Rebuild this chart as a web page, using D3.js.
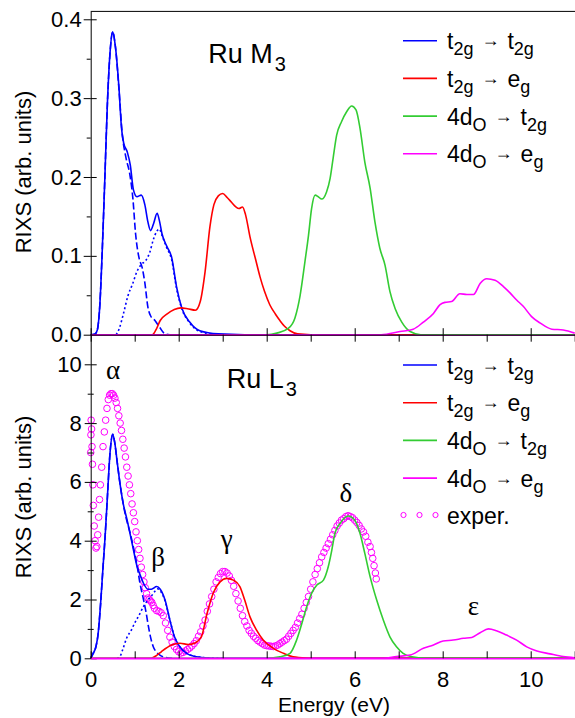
<!DOCTYPE html>
<html>
<head>
<meta charset="utf-8">
<script src="https://cdn.jsdelivr.net/npm/d3@7"></script>
<style>
body { margin: 0; background: #fff; }
svg { display: block; font-family: "Liberation Sans", Arial, Helvetica, sans-serif; }
</style>
</head>
<body>
<svg id="chart" width="575" height="718"></svg>
<script>
// Ru M3 (top panel), [energy eV, intensity]
var topBlue = [[0,0],[0.1,0.001],[0.15,0.006],[0.21,0.04],[0.26,0.103],[0.32,0.196],[0.38,0.294],[0.44,0.358],[0.5,0.384],[0.56,0.366],[0.64,0.315],[0.7,0.262],[0.75,0.243],[0.83,0.232],[0.9,0.215],[0.97,0.184],[1.05,0.175],[1.15,0.177],[1.23,0.165],[1.3,0.143],[1.36,0.132],[1.43,0.141],[1.51,0.154],[1.56,0.145],[1.62,0.128],[1.73,0.112],[1.84,0.098],[1.95,0.061],[2.07,0.034],[2.25,0.016],[2.48,0.005],[2.9,0.001],[3.5,0],[11,0]];
var topBlueDash = [[0,0],[0.1,0.001],[0.15,0.006],[0.21,0.04],[0.26,0.103],[0.32,0.196],[0.38,0.294],[0.44,0.358],[0.5,0.384],[0.56,0.366],[0.64,0.313],[0.72,0.253],[0.8,0.225],[0.89,0.203],[0.96,0.172],[1.02,0.128],[1.1,0.097],[1.17,0.085],[1.23,0.066],[1.3,0.035],[1.36,0.024],[1.46,0.018],[1.57,0.009],[1.69,0.001],[1.8,0]];
var topBlueDot = [[0.58,0],[0.65,0.008],[0.75,0.028],[0.85,0.05],[0.95,0.064],[1.05,0.08],[1.15,0.089],[1.25,0.094],[1.34,0.104],[1.42,0.12],[1.5,0.131],[1.56,0.134],[1.62,0.126],[1.73,0.11],[1.84,0.095],[1.95,0.059],[2.07,0.033],[2.25,0.015],[2.48,0.004],[2.9,0]];
var topRed = [[0,0],[1.4,0],[1.5,0.008],[1.58,0.018],[1.73,0.026],[1.9,0.032],[2.05,0.034],[2.2,0.033],[2.38,0.031],[2.49,0.042],[2.6,0.08],[2.71,0.137],[2.8,0.165],[2.9,0.176],[3.0,0.179],[3.1,0.174],[3.2,0.168],[3.3,0.162],[3.37,0.16],[3.45,0.162],[3.52,0.152],[3.62,0.124],[3.75,0.095],[3.85,0.073],[3.95,0.055],[4.07,0.038],[4.2,0.026],[4.3,0.018],[4.4,0.011],[4.53,0.005],[4.7,0.001],[5,0],[11,0]];
var topGreen = [[0,0],[4.0,0],[4.23,0.002],[4.49,0.008],[4.64,0.021],[4.76,0.05],[4.87,0.093],[4.95,0.126],[5.02,0.16],[5.1,0.177],[5.17,0.175],[5.25,0.172],[5.36,0.181],[5.44,0.198],[5.51,0.224],[5.59,0.253],[5.7,0.27],[5.82,0.283],[5.93,0.29],[6.03,0.285],[6.12,0.262],[6.23,0.219],[6.35,0.186],[6.46,0.143],[6.57,0.11],[6.69,0.088],[6.8,0.055],[6.92,0.033],[7.07,0.016],[7.26,0.004],[7.5,0],[11,0]];
var topMagenta = [[0,0],[6.6,0],[7.03,0.004],[7.33,0.007],[7.56,0.016],[7.79,0.027],[7.94,0.038],[8.05,0.041],[8.2,0.042],[8.39,0.052],[8.55,0.051],[8.7,0.051],[8.85,0.065],[9.0,0.071],[9.19,0.069],[9.38,0.061],[9.53,0.053],[9.68,0.044],[9.83,0.036],[10.02,0.023],[10.21,0.015],[10.48,0.007],[10.74,0.006],[11,0.002]];

// Ru L3 (bottom panel)
var botBlue = [[0,0],[0.05,0.15],[0.12,0.4],[0.17,0.85],[0.22,1.75],[0.28,3.1],[0.33,4.2],[0.38,5.5],[0.44,7.0],[0.5,7.62],[0.55,7.3],[0.6,6.7],[0.67,5.9],[0.74,5.25],[0.82,4.75],[0.9,4.2],[0.97,3.7],[1.05,3.15],[1.12,2.85],[1.2,2.55],[1.3,2.35],[1.38,2.35],[1.5,2.44],[1.58,2.35],[1.69,1.98],[1.8,1.3],[1.9,0.75],[2.0,0.45],[2.18,0.17],[2.35,0.07],[2.6,0.02],[3,0],[11,0]];
var botBlueDash = [[0,0],[0.05,0.15],[0.12,0.4],[0.17,0.85],[0.22,1.75],[0.28,3.1],[0.33,4.2],[0.38,5.5],[0.44,7.0],[0.5,7.62],[0.55,7.3],[0.6,6.7],[0.67,5.9],[0.74,5.25],[0.8,4.8],[0.89,4.3],[1.0,3.57],[1.06,3.1],[1.12,2.55],[1.2,2.0],[1.26,1.55],[1.31,1.1],[1.36,0.72],[1.42,0.4],[1.5,0.2],[1.58,0.1],[1.7,0.03],[1.85,0]];
var botBlueDot = [[0.6,0],[0.66,0.05],[0.74,0.35],[0.82,0.7],[0.92,0.95],[1.0,1.2],[1.1,1.47],[1.2,1.76],[1.3,1.98],[1.38,2.12],[1.46,2.28],[1.52,2.36],[1.58,2.3],[1.69,1.95],[1.8,1.3],[1.9,0.75],[2.0,0.45],[2.18,0.17],[2.35,0.07],[2.6,0.02],[3,0]];
var botRed = [[0,0],[1.3,0],[1.39,0.01],[1.5,0.1],[1.61,0.23],[1.84,0.45],[2.03,0.51],[2.22,0.47],[2.37,0.52],[2.52,0.75],[2.64,1.5],[2.79,2.24],[2.94,2.6],[3.09,2.72],[3.24,2.66],[3.39,2.44],[3.5,1.98],[3.62,1.41],[3.77,0.96],[3.92,0.62],[4.15,0.34],[4.38,0.17],[4.6,0.05],[4.9,0.01],[5.2,0],[11,0]];
var botGreen = [[0,0],[4.0,0],[4.3,0.05],[4.53,0.17],[4.68,0.62],[4.8,1.19],[4.91,1.76],[5.02,2.21],[5.14,2.49],[5.29,2.66],[5.4,3.12],[5.48,3.68],[5.55,4.25],[5.67,4.59],[5.85,4.84],[6.0,4.7],[6.12,4.25],[6.23,3.57],[6.35,2.78],[6.5,1.98],[6.65,1.3],[6.8,0.73],[6.95,0.39],[7.1,0.17],[7.3,0.05],[7.6,0],[11,0]];
var botMagenta = [[0,0],[6.65,0],[6.95,0.06],[7.26,0.11],[7.56,0.34],[7.79,0.45],[8.01,0.59],[8.24,0.62],[8.47,0.68],[8.66,0.71],[8.85,0.87],[9.04,1.0],[9.22,0.94],[9.45,0.79],[9.68,0.62],[9.91,0.39],[10.14,0.25],[10.44,0.15],[10.74,0.06],[11,0.02]];

// experiment (open circles)
var exper = [[0,7.0],[0.005,7.6],[0.01,8.1],[0.02,7.8],[0.03,7.2],[0.04,6.6],[0.05,5.9],[0.06,5.2],[0.08,4.5],[0.1,4.0],[0.12,3.75],[0.14,3.8],[0.16,4.2],[0.18,4.8],[0.2,5.4],[0.22,5.9],[0.25,6.5],[0.28,7.2],[0.31,7.7],[0.34,8.1],[0.37,8.5],[0.4,8.8],[0.43,8.95],[0.46,9.0],[0.49,9.0],[0.52,8.95],[0.55,8.85],[0.58,8.7],[0.61,8.5],[0.64,8.25],[0.67,8.0],[0.7,7.75],[0.73,7.45],[0.76,7.15],[0.79,6.85],[0.82,6.5],[0.85,6.2],[0.88,5.9],[0.91,5.6],[0.94,5.25],[0.97,4.95],[1.0,4.65],[1.03,4.3],[1.06,4.0],[1.09,3.7],[1.12,3.4],[1.15,3.1],[1.18,2.85],[1.21,2.6],[1.24,2.4],[1.27,2.2],[1.3,2.05],[1.33,2.0],[1.36,1.95],[1.39,1.9],[1.42,1.8],[1.45,1.7],[1.5,1.62],[1.55,1.6],[1.6,1.55],[1.65,1.45],[1.7,1.2],[1.75,0.95],[1.8,0.72],[1.85,0.55],[1.9,0.4],[1.95,0.3],[2.0,0.22],[2.05,0.18],[2.1,0.2],[2.15,0.25],[2.2,0.3],[2.25,0.35],[2.3,0.42],[2.35,0.5],[2.4,0.6],[2.45,0.75],[2.5,0.9],[2.55,1.1],[2.6,1.3],[2.65,1.6],[2.7,1.85],[2.75,2.1],[2.8,2.35],[2.85,2.6],[2.9,2.75],[2.95,2.88],[3.0,2.95],[3.05,2.95],[3.1,2.9],[3.15,2.8],[3.2,2.65],[3.25,2.45],[3.3,2.2],[3.35,1.95],[3.4,1.7],[3.45,1.45],[3.5,1.25],[3.55,1.1],[3.6,0.95],[3.65,0.85],[3.7,0.75],[3.75,0.68],[3.8,0.6],[3.85,0.55],[3.9,0.5],[3.95,0.45],[4.0,0.43],[4.05,0.42],[4.1,0.41],[4.15,0.4],[4.2,0.42],[4.25,0.45],[4.3,0.5],[4.35,0.55],[4.4,0.6],[4.45,0.65],[4.5,0.75],[4.55,0.85],[4.6,0.95],[4.65,1.05],[4.7,1.2],[4.75,1.35],[4.8,1.5],[4.85,1.7],[4.9,1.9],[4.95,2.1],[5.0,2.35],[5.05,2.6],[5.1,2.85],[5.15,3.05],[5.2,3.25],[5.25,3.45],[5.3,3.6],[5.35,3.75],[5.4,3.9],[5.45,4.05],[5.5,4.2],[5.55,4.35],[5.6,4.5],[5.65,4.6],[5.7,4.7],[5.75,4.75],[5.8,4.82],[5.85,4.85],[5.9,4.82],[5.95,4.78],[6.0,4.7],[6.05,4.62],[6.1,4.52],[6.15,4.4],[6.2,4.3],[6.25,4.15],[6.3,3.95],[6.35,3.8],[6.38,3.6],[6.41,3.4],[6.44,3.15],[6.47,2.9],[6.49,2.7]];

var xMajor = [0, 2, 4, 6, 8, 10];
var xAll = [0, 1, 2, 3, 4, 5, 6, 7, 8, 9, 10, 11];
var yTopMajor = [0, 0.1, 0.2, 0.3, 0.4];
var yTopMinor = [0.05, 0.15, 0.25, 0.35];
var yBotMajor = [0, 2, 4, 6, 8, 10];
var yBotMinor = [1, 3, 5, 7, 9];

// legend: [base, sub, base, sub]
var legendLabels = [["t", "2g", "t", "2g"], ["t", "2g", "e", "g"], ["4d", "O", "t", "2g"], ["4d", "O", "e", "g"]];
var colors = ["#0000ff", "#ff0000", "#33cc33", "#ff00ff"];
var peakLabels = ["\u03b1", "\u03b2", "\u03b3", "\u03b4", "\u03b5"];

var svg = d3.select("#chart");

var x = d3.scaleLinear().domain([0, 11]).range([90.7, 574.7]);
var yTop = d3.scaleLinear().domain([0, 0.41]).range([334.7, 11.4]);
var yBot = d3.scaleLinear().domain([0, 11]).range([658.3, 334.9]);

function drawCurve(g, data, y, color, dash) {
    var line = d3.line()
        .x(function(d) { return x(d[0]); })
        .y(function(d) { return y(d[1]); })
        .curve(d3.curveMonotoneX);
    g.append("path")
        .datum(data)
        .attr("d", line)
        .attr("fill", "none")
        .attr("stroke", color)
        .attr("stroke-width", 1.6)
        .attr("stroke-dasharray", dash || null);
}

function drawLegend(g, top, withExp) {
    for (let i = 0; i < legendLabels.length; i++) {
        var ly = top + i * 37.7;
        g.append("line")
            .attr("x1", 403).attr("x2", 437)
            .attr("y1", ly).attr("y2", ly)
            .attr("stroke", colors[i]).attr("stroke-width", 1.6);
        var t = g.append("text").attr("x", 447).attr("y", ly + 8.5).attr("font-size", 23);
        var lab = legendLabels[i];
        t.append("tspan").text(lab[0]);
        t.append("tspan").attr("font-size", 18).attr("dy", 6).text(lab[1]);
        t.append("tspan").attr("font-size", 18).attr("dy", -9).attr("dx", 8).text("\u2192");
        t.append("tspan").attr("dy", 3).attr("dx", 8).text(lab[2]);
        t.append("tspan").attr("font-size", 18).attr("dy", 6).text(lab[3]);
    }
    if (withExp) {
        var ey = top + 4 * 37.5;
        [403.5, 419.5, 435.5].forEach(function(cx) {
            g.append("circle").attr("cx", cx).attr("cy", ey).attr("r", 2.6)
                .attr("fill", "none").attr("stroke", "#ff00ff").attr("stroke-width", 1);
        });
        g.append("text").attr("x", 447).attr("y", ey + 8.5).attr("font-size", 23).text("exper.");
    }
}

function styleAxis(g) {
    g.selectAll("line").attr("stroke", "#000");
    g.selectAll("path").attr("stroke", "#000");
    g.selectAll("text").attr("font-size", 22).attr("fill", "#000")
        .attr("font-family", "'Liberation Sans', Arial, sans-serif");
}

// ---------- top panel ----------
var gTop = svg.append("g");
drawCurve(gTop, topBlue, yTop, colors[0]);
drawCurve(gTop, topBlueDash, yTop, colors[0], "7,3");
drawCurve(gTop, topBlueDot, yTop, colors[0], "2,2.5");
drawCurve(gTop, topRed, yTop, colors[1]);
drawCurve(gTop, topGreen, yTop, colors[2]);
drawCurve(gTop, topMagenta, yTop, colors[3]);

// ---------- bottom panel ----------
var gBot = svg.append("g");
gBot.selectAll("circle.exp")
    .data(exper)
    .enter()
    .append("circle")
    .attr("class", "exp")
    .attr("cx", function(d) { return x(d[0]); })
    .attr("cy", function(d) { return yBot(d[1]); })
    .attr("r", 3.3)
    .attr("fill", "none")
    .attr("stroke", "#ff00ff")
    .attr("stroke-width", 1);
drawCurve(gBot, botBlue, yBot, colors[0]);
drawCurve(gBot, botBlueDash, yBot, colors[0], "7,3");
drawCurve(gBot, botBlueDot, yBot, colors[0], "2,2.5");
drawCurve(gBot, botRed, yBot, colors[1]);
drawCurve(gBot, botGreen, yBot, colors[2]);
drawCurve(gBot, botMagenta, yBot, colors[3]);

// ---------- axes ----------
// top frame line
svg.append("line").attr("x1", x(0)).attr("x2", 575).attr("y1", yTop(0.41)).attr("y2", yTop(0.41))
    .attr("stroke", "#000").attr("stroke-width", 1);

var ax;
ax = svg.append("g").attr("transform", "translate(" + x(0) + ",0)")
    .call(d3.axisLeft(yTop).tickValues(yTopMajor).tickSize(7).tickSizeOuter(0).tickPadding(2).tickFormat(d3.format(".1f")));
styleAxis(ax);
ax = svg.append("g").attr("transform", "translate(" + x(0) + ",0)")
    .call(d3.axisLeft(yTop).tickValues(yTopMajor).tickSize(-6).tickFormat(""));
ax.select(".domain").remove(); styleAxis(ax);
ax = svg.append("g").attr("transform", "translate(" + x(0) + ",0)")
    .call(d3.axisLeft(yTop).tickValues(yTopMinor).tickSize(4).tickFormat(""));
ax.select(".domain").remove(); styleAxis(ax);

ax = svg.append("g").attr("transform", "translate(" + x(0) + ",0)")
    .call(d3.axisLeft(yBot).tickValues(yBotMajor).tickSize(6).tickSizeOuter(0).tickPadding(3).tickFormat(d3.format("d")));
styleAxis(ax);
ax = svg.append("g").attr("transform", "translate(" + x(0) + ",0)")
    .call(d3.axisLeft(yBot).tickValues(yBotMajor).tickSize(-6).tickFormat(""));
ax.select(".domain").remove(); styleAxis(ax);
ax = svg.append("g").attr("transform", "translate(" + x(0) + ",0)")
    .call(d3.axisLeft(yBot).tickValues(yBotMinor).tickSize(3).tickFormat(""));
ax.select(".domain").remove(); styleAxis(ax);
ax = svg.append("g").attr("transform", "translate(" + x(0) + ",0)")
    .call(d3.axisLeft(yBot).tickValues(yBotMinor).tickSize(-3).tickFormat(""));
ax.select(".domain").remove(); styleAxis(ax);

// shared middle line: top panel major ticks up, bottom panel ticks down
ax = svg.append("g").attr("transform", "translate(0," + yTop(0) + ")")
    .call(d3.axisBottom(x).tickValues(xMajor).tickSize(-6.5).tickSizeOuter(0).tickFormat(""));
styleAxis(ax);
ax.select(".domain").attr("stroke", "#4a0a4a").attr("stroke-width", 1.4);
ax = svg.append("g").attr("transform", "translate(0," + yTop(0) + ")")
    .call(d3.axisTop(x).tickValues(xAll).tickSize(-7).tickFormat(""));
ax.select(".domain").remove(); styleAxis(ax);

// bottom axis
ax = svg.append("g").attr("transform", "translate(0," + yBot(0) + ")")
    .call(d3.axisBottom(x).tickValues(xAll).tickSize(-7).tickSizeOuter(0).tickPadding(13)
        .tickFormat(function(d) { return d % 2 === 0 ? d : ""; }));
styleAxis(ax);
ax.select(".domain").attr("stroke", "#ff00ff").attr("stroke-width", 1.6);

// axis titles
svg.append("text").attr("transform", "translate(31," + 172 + ") rotate(-90)")
    .attr("text-anchor", "middle").attr("font-size", 22).text("RIXS (arb. units)");
svg.append("text").attr("transform", "translate(31," + 497 + ") rotate(-90)")
    .attr("text-anchor", "middle").attr("font-size", 22).text("RIXS (arb. units)");
svg.append("text").attr("x", 334).attr("y", 712).attr("text-anchor", "middle")
    .attr("font-size", 21).text("Energy (eV)");

// panel titles
var t1 = svg.append("text").attr("x", x(2.67)).attr("y", yTop(0.345)).attr("font-size", 27);
t1.append("tspan").text("Ru M");
t1.append("tspan").attr("font-size", 20).attr("dy", 8).attr("dx", 2).text("3");
var t2 = svg.append("text").attr("x", x(3.09)).attr("y", yBot(9.19)).attr("font-size", 27);
t2.append("tspan").text("Ru L");
t2.append("tspan").attr("font-size", 20).attr("dy", 8).attr("dx", 2).text("3");

// peak labels
var peakPos = [[0.507, 9.5], [1.53, 3.14], [3.09, 3.74], [5.8, 5.3], [8.7, 1.47]];
for (let i = 0; i < peakLabels.length; i++) {
    svg.append("text")
        .attr("x", x(peakPos[i][0])).attr("y", yBot(peakPos[i][1]))
        .attr("text-anchor", "middle")
        .attr("font-family", "'Liberation Serif', 'DejaVu Serif', serif")
        .attr("font-size", 27)
        .text(peakLabels[i]);
}

drawLegend(svg.append("g"), 40.7, false);
drawLegend(svg.append("g"), 365, true);
</script>
</body>
</html>
